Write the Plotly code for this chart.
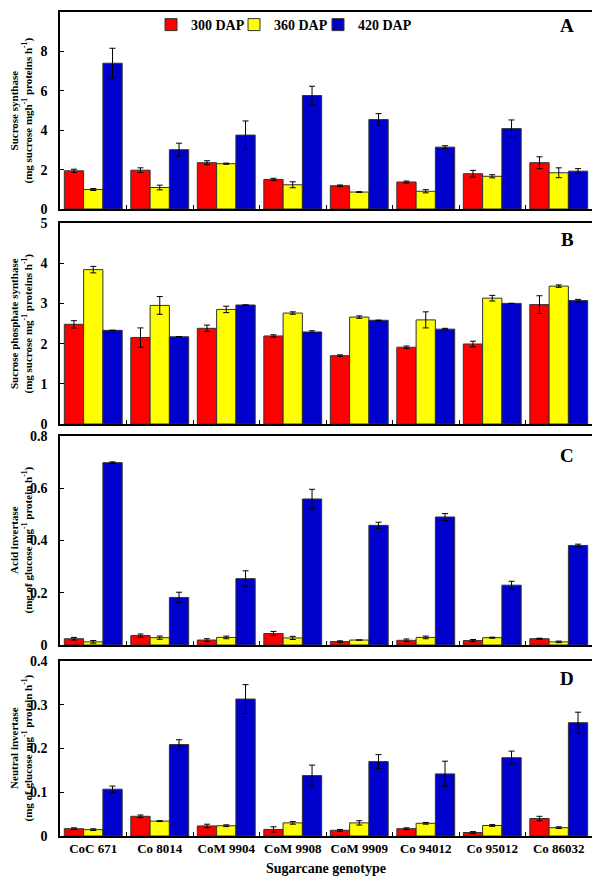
import plotly.graph_objects as go

genotypes = ['CoC 671', 'Co 8014', 'CoM 9904', 'CoM 9908', 'CoM 9909', 'Co 94012', 'Co 95012', 'Co 86032']
stages = ['300 DAP', '360 DAP', '420 DAP']
colors = ['#ff0000', '#ffff00', '#0000cc']

# A - sucrose synthase
ss_300 = [1.94, 1.97, 2.35, 1.50, 1.18, 1.37, 1.79, 2.35]
ss_360 = [0.99, 1.09, 2.30, 1.23, 0.86, 0.90, 1.66, 1.84]
ss_420 = [7.40, 3.01, 3.75, 5.76, 4.54, 3.14, 4.08, 1.92]
ss_300_err = [0.08, 0.12, 0.10, 0.06, 0.04, 0.05, 0.17, 0.30]
ss_360_err = [0.05, 0.12, 0.03, 0.15, 0.02, 0.08, 0.08, 0.25]
ss_420_err = [0.76, 0.33, 0.72, 0.47, 0.30, 0.07, 0.44, 0.13]

# B - sucrose phosphate synthase
sps_300 = [2.48, 2.15, 2.38, 2.19, 1.70, 1.91, 1.99, 2.97]
sps_360 = [3.84, 2.95, 2.85, 2.76, 2.66, 2.59, 3.13, 3.43]
sps_420 = [2.33, 2.17, 2.96, 2.29, 2.58, 2.36, 3.00, 3.07]
sps_300_err = [0.09, 0.24, 0.08, 0.03, 0.02, 0.03, 0.07, 0.22]
sps_360_err = [0.08, 0.22, 0.08, 0.03, 0.03, 0.20, 0.07, 0.03]
sps_420_err = [0.0, 0.0, 0.0, 0.03, 0.0, 0.02, 0.0, 0.03]

# C - acid invertase
ai_300 = [0.024, 0.036, 0.019, 0.044, 0.013, 0.018, 0.017, 0.024]
ai_360 = [0.012, 0.028, 0.029, 0.027, 0.019, 0.029, 0.028, 0.012]
ai_420 = [0.698, 0.182, 0.254, 0.559, 0.458, 0.490, 0.229, 0.381]
ai_300_err = [0.005, 0.006, 0.005, 0.008, 0.003, 0.005, 0.004, 0.002]
ai_360_err = [0.005, 0.006, 0.005, 0.006, 0.0, 0.005, 0.002, 0.003]
ai_420_err = [0.003, 0.020, 0.030, 0.037, 0.012, 0.013, 0.015, 0.005]

# D - neutral invertase
ni_300 = [0.0167, 0.045, 0.023, 0.015, 0.013, 0.0167, 0.008, 0.040]
ni_360 = [0.0145, 0.034, 0.0235, 0.030, 0.030, 0.029, 0.024, 0.019]
ni_420 = [0.107, 0.209, 0.313, 0.138, 0.170, 0.142, 0.179, 0.259]
ni_300_err = [0.002, 0.003, 0.004, 0.006, 0.002, 0.002, 0.002, 0.005]
ni_360_err = [0.002, 0.001, 0.002, 0.003, 0.005, 0.002, 0.002, 0.002]
ni_420_err = [0.007, 0.011, 0.033, 0.024, 0.016, 0.029, 0.015, 0.024]

panels = [
    ([ss_300, ss_360, ss_420], [ss_300_err, ss_360_err, ss_420_err], [0, 10], 2,
     'Sucrose synthase<br>(mg sucrose mgh<sup>-1</sup> proteins h<sup>-1</sup>)', 'A'),
    ([sps_300, sps_360, sps_420], [sps_300_err, sps_360_err, sps_420_err], [0, 5], 1,
     'Sucrose phosphate synthase<br>(mg sucrose mg<sup>-1</sup> proteins h<sup>-1</sup>)', 'B'),
    ([ai_300, ai_360, ai_420], [ai_300_err, ai_360_err, ai_420_err], [0, 0.8], 0.2,
     'Acid invertase<br>(mg of glucose mg<sup>-1</sup> protein h<sup>-1</sup>)', 'C'),
    ([ni_300, ni_360, ni_420], [ni_300_err, ni_360_err, ni_420_err], [0, 0.4], 0.1,
     'Neutral invertase<br>(mg of glucose mg<sup>-1</sup> protein h<sup>-1</sup>)', 'D'),
]

# the page body has an 8px margin, so positions below are page pixels minus 8
OFF = 8
W, H = 600 - OFF, 881 - OFF


def px(p):
    return (p - OFF) / W


def py(p):
    return 1 - (p - OFF) / H


# pixel rows of each panel (top, bottom) and letter centre
rows_px = [(12, 209), (223, 424), (436, 645), (661, 836)]
letter_y = [25, 240, 456, 678]
legend_sq = [165, 248, 332]
xdom = [px(60), px(592)]

FONT = 'Liberation Serif, Times New Roman, serif'

fig = go.Figure()
annotations = []
layout = {}

for i, (series, errs, yr, dt, ytitle, letter) in enumerate(panels):
    n = '' if i == 0 else str(i + 1)
    top, bot = rows_px[i]
    ydom = [py(bot), py(top)]
    for j in range(3):
        fig.add_trace(go.Bar(
            x=genotypes, y=series[j], name=stages[j],
            marker=dict(color=colors[j], line=dict(color='#333333', width=1)),
            error_y=dict(type='data', array=errs[j], color='black', thickness=1, width=3),
            xaxis='x' + n, yaxis='y' + n, showlegend=(i == 0),
            legend='legend' if j == 0 else 'legend' + str(j + 1),
        ))
    layout['xaxis' + n] = dict(
        domain=xdom, anchor='y' + n, showline=True, mirror=True, linecolor='black', linewidth=1.5,
        ticks='inside', tickson='boundaries', ticklen=4, tickcolor='black',
        showticklabels=(i == 3), tickangle=0, automargin=False,
        tickfont=dict(family=FONT, size=13, color='black', weight='bold'),
        showgrid=False,
    )
    layout['yaxis' + n] = dict(
        domain=ydom, anchor='x' + n, range=yr, dtick=dt, showline=True, mirror=True,
        linecolor='black', linewidth=1.5, ticks='inside', ticklen=4, tickcolor='black',
        showgrid=False, zeroline=False, ticklabelstandoff=8, automargin=False,
        tickfont=dict(family=FONT, size=14, color='black', weight='bold'),
    )
    annotations.append(dict(
        text='<b>' + ytitle + '</b>', textangle=-90, xref='paper', yref='paper',
        x=px(21), y=(ydom[0] + ydom[1]) / 2, xanchor='center', yanchor='middle',
        showarrow=False, font=dict(family=FONT, size=11, color='black'),
    ))
    annotations.append(dict(
        text='<b>' + letter + '</b>', xref='paper', yref='paper',
        x=px(567), y=py(letter_y[i]), xanchor='center', yanchor='middle', showarrow=False,
        font=dict(family=FONT, size=19, color='black'),
    ))

annotations.append(dict(
    text='<b>Sugarcane genotype</b>', xref='paper', yref='paper',
    x=(xdom[0] + xdom[1]) / 2, y=py(868), xanchor='center', yanchor='middle', showarrow=False,
    font=dict(family=FONT, size=14, color='black'),
))

# one single-item legend per stage so each key sits where the reference has it
for j, sq in enumerate(legend_sq):
    key = 'legend' if j == 0 else 'legend' + str(j + 1)
    layout[key] = dict(
        orientation='h', x=px(sq - 14), y=py(25), xanchor='left', yanchor='middle',
        font=dict(family=FONT, size=14, color='black', weight='bold'),
        bgcolor='rgba(0,0,0,0)', borderwidth=0,
    )

fig.update_layout(
    width=W, height=H, margin=dict(l=0, r=0, t=0, b=0),
    paper_bgcolor='white', plot_bgcolor='white',
    barmode='group', bargap=0.13, bargroupgap=0,
    font=dict(family=FONT, color='black'),
    annotations=annotations,
    **layout,
)

fig.write_html("out.html")
